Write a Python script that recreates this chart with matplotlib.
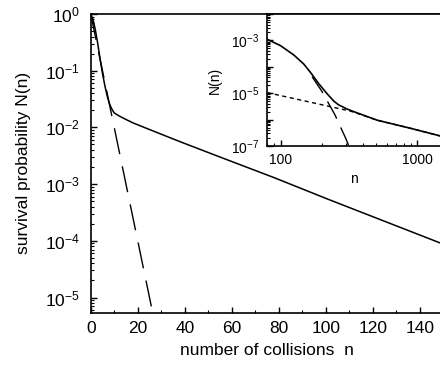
import numpy as np
import matplotlib
matplotlib.use("Agg")
import matplotlib.pyplot as plt
from matplotlib.ticker import LogLocator, FuncFormatter, MultipleLocator, NullFormatter

plt.rcParams['font.family'] = ['Liberation Sans', 'DejaVu Sans']
plt.rcParams['mathtext.fontset'] = 'custom'
plt.rcParams['mathtext.rm'] = 'Liberation Sans'
plt.rcParams['mathtext.it'] = 'Liberation Sans:italic'

# main panel: survival probability vs number of collisions
main_n = [0, 1, 2, 3, 4, 5, 6, 7, 8, 9, 10, 12, 15, 18, 27, 38, 55, 78, 100, 150]
main_solid = [1.0, 0.8, 0.52, 0.3, 0.16, 0.09, 0.055, 0.036, 0.026, 0.021, 0.018,
              0.016, 0.0138, 0.012, 0.0085, 0.0056, 0.0030, 0.0013, 5.6e-4, 8.7e-5]
main_dash_n = [0, 5, 10, 15, 20, 25, 30]
main_dash = [1.0, 0.1, 1e-2, 1e-3, 1e-4, 1e-5, 1e-6]

# inset: log-log view of the tail
ins_n = [80, 100, 125, 148, 166, 190, 219, 245, 266, 307, 343, 508, 889, 1470, 1600]
ins_solid = [1.1e-3, 6.3e-4, 2.8e-4, 1.26e-4, 6.0e-5, 2.3e-5, 9.5e-6, 5.0e-6, 3.6e-6,
             2.5e-6, 2.0e-6, 9.5e-7, 4.7e-7, 2.4e-7, 2.2e-7]
ins_dot_n = [80, 324, 508, 889, 1470, 1600]
ins_dot = [1.05e-5, 2.1e-6, 9.5e-7, 4.7e-7, 2.4e-7, 2.2e-7]
ins_dash_n = [170, 200, 250, 300, 330]
ins_dash = [4.2e-5, 1.2e-5, 1.5e-6, 1.9e-7, 5.6e-8]

W, H = 440, 369
fig = plt.figure(figsize=(W / 100, H / 100), dpi=100)

def px_axes(left, top, right, bottom):
    return fig.add_axes([left / W, 1 - bottom / H, (right - left) / W, (bottom - top) / H])

ax = px_axes(90.7, 14, 443.5, 312.7)
ax.plot(main_n, main_solid, color='black', lw=1.1)
ax.plot(main_dash_n, main_dash, color='black', lw=1.0, linestyle=(0, (19, 9)))
ax.set_yscale('log')
ax.set_xlim(0, 150)
ax.set_ylim(5.4e-6, 1)
ax.xaxis.set_major_locator(MultipleLocator(20))
ax.xaxis.set_minor_locator(MultipleLocator(10))
ax.yaxis.set_major_locator(LogLocator(base=10, numticks=10))
ax.yaxis.set_minor_locator(LogLocator(base=10, subs=np.arange(2, 10), numticks=10))
ax.yaxis.set_minor_formatter(NullFormatter())
ax.tick_params(which='both', direction='in', top=False, right=False, labelsize=12.5)
ax.tick_params(which='major', length=4.5, width=1.0)
ax.tick_params(which='minor', length=2.5, width=0.8)
ax.tick_params(axis='x', pad=6)
ax.tick_params(axis='y', pad=8)
for s in ax.spines.values():
    s.set_linewidth(1.2)
ax.set_xlabel('number of collisions  n', fontsize=12.5, labelpad=5)
ax.set_ylabel('survival probability N(n)', fontsize=12.5, labelpad=10)

ins = px_axes(267.3, 14, 441.5, 146)
ins.plot(ins_n, ins_solid, color='black', lw=1.2)
ins.plot(ins_dot_n, ins_dot, color='black', lw=1.0, linestyle=(0, (3, 2.5)))
ins.plot(ins_dash_n, ins_dash, color='black', lw=1.0, linestyle=(0, (14, 7)))
ins.set_xscale('log')
ins.set_yscale('log')
ins.set_xlim(80, 1500)
ins.set_ylim(1e-7, 1e-2)
ins.yaxis.set_major_locator(LogLocator(base=10, numticks=10))
ins.yaxis.set_minor_locator(LogLocator(base=10, subs=np.arange(2, 10), numticks=10))
ins.yaxis.set_minor_formatter(NullFormatter())

def odd_exp(v, pos):
    e = int(round(np.log10(v)))
    return r'$\mathdefault{10^{%d}}$' % e if e % 2 else ''

ins.yaxis.set_major_formatter(FuncFormatter(odd_exp))
ins.xaxis.set_major_formatter(FuncFormatter(lambda v, p: '%d' % v))
ins.xaxis.set_minor_formatter(NullFormatter())
ins.tick_params(which='both', direction='in', top=False, right=False, labelsize=10)
ins.tick_params(which='major', length=4, width=1.0)
ins.tick_params(which='minor', length=2.2, width=0.8)
ins.tick_params(axis='x', pad=5)
ins.tick_params(axis='y', pad=6)
for s in ins.spines.values():
    s.set_linewidth(1.2)
ins.set_xlabel('n', fontsize=10, labelpad=4)
ins.set_ylabel('N(n)', fontsize=10, labelpad=6)

fig.savefig('out.png', dpi=100)
